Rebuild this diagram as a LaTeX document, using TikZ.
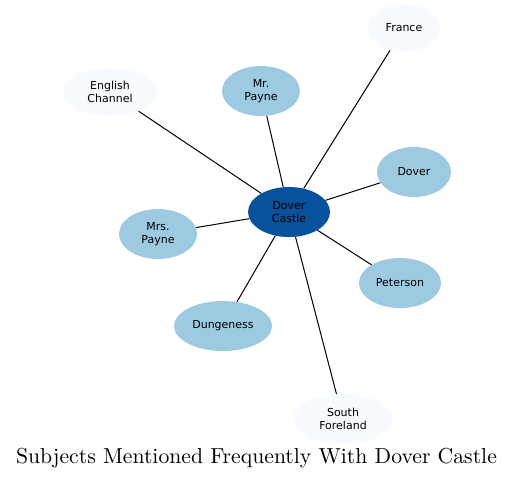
\documentclass[tikz,border=0pt]{standalone}
\usepackage{fontspec}
\newfontfamily\nodefont{DejaVu Sans}
\newfontfamily\titlefont{lmroman10-regular.otf}
\definecolor{cdark}{HTML}{08519C}
\definecolor{cmid}{HTML}{9ECAE1}
\definecolor{clight}{HTML}{F7FBFF}
\usetikzlibrary{shapes.geometric}
\begin{document}
\begin{tikzpicture}[x=1pt,y=-1pt,
  bub/.style={ellipse, inner sep=0pt, font=\nodefont\fontsize{11}{13}\selectfont, align=center, text=black},
  dk/.style={bub, fill=cdark},
  md/.style={bub, fill=cmid},
  lt/.style={bub, fill=clight},
  edge/.style={draw=black, line width=1pt}]
\useasboundingbox (0,0) rectangle (513,480);
\node[dk, minimum width=82pt, minimum height=50pt] (c) at (289,212) {Dover\\Castle};
\node[lt, minimum width=72pt, minimum height=48pt] (fr) at (404,28) {France};
\node[lt, minimum width=94pt, minimum height=48pt] (ec) at (110,92) {English\\Channel};
\node[md, minimum width=78pt, minimum height=50pt] (mp) at (261,91) {Mr.\\Payne};
\node[md, minimum width=74pt, minimum height=50pt] (dv) at (414,172) {Dover};
\node[md, minimum width=78pt, minimum height=50pt] (ms) at (158,234) {Mrs.\\Payne};
\node[md, minimum width=82pt, minimum height=50pt] (pt) at (400,283) {Peterson};
\node[md, minimum width=98pt, minimum height=50pt] (dg) at (223,326) {Dungeness};
\node[lt, minimum width=100pt, minimum height=50pt] (sf) at (343,419) {South\\Foreland};
\foreach \n in {fr,ec,mp,dv,ms,pt,dg,sf} \draw[edge] (c) -- (\n);
\node (title) at (256.5,458) {\titlefont\fontsize{21.7}{26}\selectfont Subjects Mentioned Frequently With Dover Castle};
\end{tikzpicture}
\end{document}
